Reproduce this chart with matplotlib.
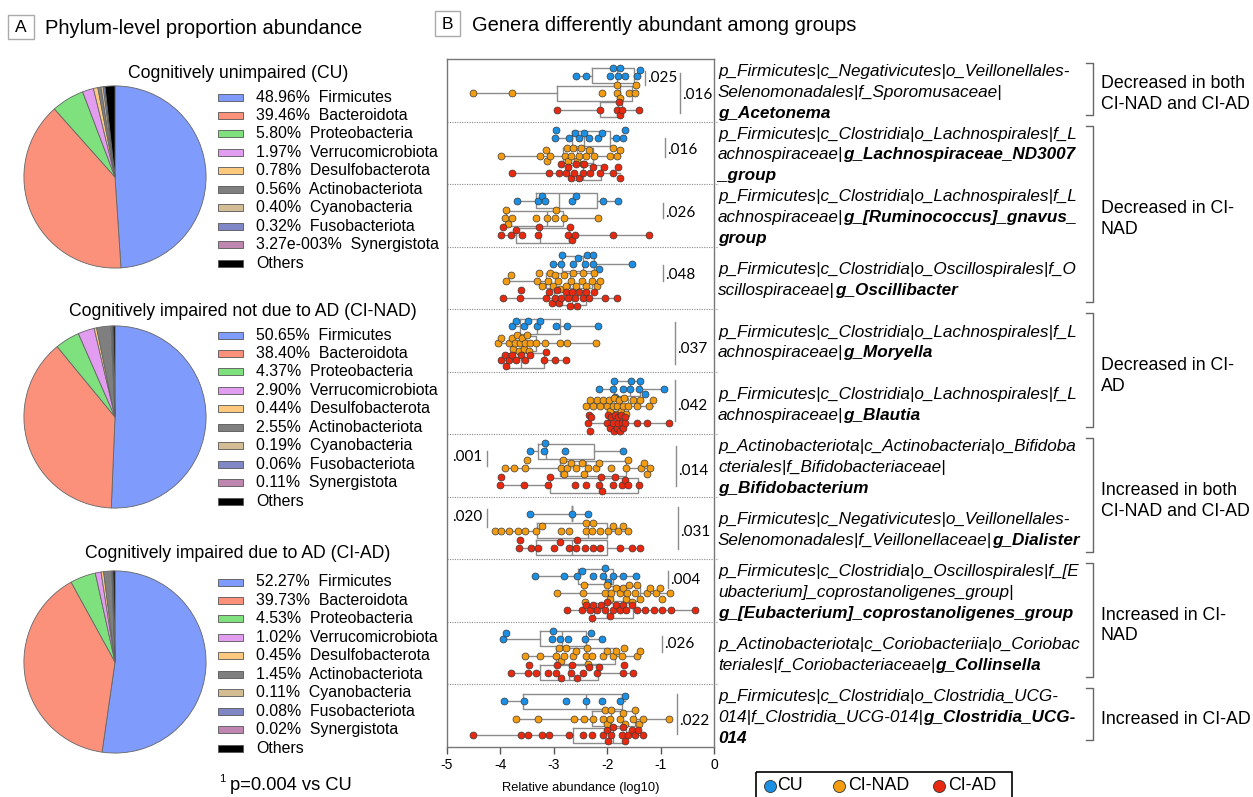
import numpy as np
import matplotlib
matplotlib.use('Agg')
import matplotlib.pyplot as plt
from matplotlib.patches import Rectangle

plt.rcParams['font.family'] = ['Liberation Sans', 'DejaVu Sans']

# ---------------- DATA ----------------
phyla = ['Firmicutes', 'Bacteroidota', 'Proteobacteria', 'Verrucomicrobiota',
         'Desulfobacterota', 'Actinobacteriota', 'Cyanobacteria', 'Fusobacteriota',
         'Synergistota', 'Others']
cu_pct = [48.96, 39.46, 5.80, 1.97, 0.78, 0.56, 0.40, 0.32, 3.27e-3]
cinad_pct = [50.65, 38.40, 4.37, 2.90, 0.44, 2.55, 0.19, 0.06, 0.11]
ciad_pct = [52.27, 39.73, 4.53, 1.02, 0.45, 1.45, 0.11, 0.08, 0.02]
pie_titles = ['Cognitively unimpaired (CU)',
              'Cognitively impaired not due to AD (CI-NAD)',
              'Cognitively impaired due to AD (CI-AD)']
phylum_colors = ['#7f9bfb', '#fb917b', '#7fe07e', '#e29cf0', '#fdc97f',
                 '#7f7f7f', '#d4bd94', '#7f87c6', '#bf86b2', '#000000']

groups = ['CU', 'CI-NAD', 'CI-AD']

# log10 relative abundance of individual samples, per genus (top to bottom)
cu_points = [
    [-2.59, -2.40, -1.94, -1.90, -1.80, -1.76, -1.66, -1.44, -1.39],
    [-2.98, -2.96, -2.71, -2.61, -2.53, -2.44, -2.34, -2.17, -2.09, -1.84, -1.70, -1.67],
    [-3.69, -3.30, -3.23, -3.17, -2.65, -2.58, -2.08, -1.79],
    [-3.02, -2.86, -2.84, -2.64, -2.54, -2.42, -2.38, -2.27, -2.26, -2.16, -1.54],
    [-3.78, -3.71, -3.55, -3.49, -3.31, -3.26, -2.95, -2.76, -2.17],
    [-2.16, -1.89, -1.87, -1.86, -1.71, -1.58, -1.56, -1.40, -1.39, -1.29, -0.94],
    [-3.44, -3.18, -3.16, -2.79, -1.71],
    [-3.45, -2.65, -2.36],
    [-3.36, -2.81, -2.56, -2.48, -2.26, -2.07, -2.04, -1.99, -1.90, -1.71, -1.46],
    [-3.96, -3.89, -3.04, -3.02, -2.89, -2.73, -2.42, -2.31, -2.09],
    [-3.94, -3.56, -2.78, -2.39, -2.09, -1.76, -1.67],
]
cu_box = [(-2.28, -1.82, -1.49), (-2.65, -2.44, -1.94), (-3.33, -2.91, -2.20),
          (-2.84, -2.46, -2.25), (-3.63, -3.31, -2.88), (-1.87, -1.57, -1.39),
          (-3.29, -3.15, -2.25), (-2.65, -2.65, -2.65), (-2.54, -2.04, -1.90),
          (-3.25, -2.84, -2.40), (-3.58, -2.39, -1.73)]

nad_points = [
    [-4.51, -3.78, -2.09, -1.82, -1.81, -1.76, -1.60, -1.48, -1.46],
    [-3.99, -3.25, -3.15, -3.12, -3.08, -2.79, -2.76, -2.73, -2.68, -2.64, -2.57, -2.52,
     -2.49, -2.46, -2.40, -2.34, -2.25, -1.94, -1.90, -1.82, -1.76],
    [-3.92, -3.89, -3.86, -3.78, -3.34, -3.12, -2.98, -2.96, -2.81, -2.17],
    [-3.89, -3.81, -3.31, -3.27, -3.23, -3.11, -3.08, -3.01, -2.98, -2.92, -2.88, -2.81,
     -2.78, -2.67, -2.64, -2.58, -2.48, -2.45, -2.39, -2.29, -2.25, -2.20, -2.14],
    [-4.04, -3.98, -3.84, -3.78, -3.76, -3.73, -3.69, -3.66, -3.64, -3.59, -3.56, -3.54,
     -3.50, -3.47, -3.45, -3.33, -3.17, -2.89, -2.76, -2.21],
    [-2.39, -2.33, -2.26, -2.20, -2.14, -2.08, -2.01, -1.96, -1.94, -1.90, -1.87, -1.84,
     -1.81, -1.78, -1.75, -1.71, -1.69, -1.65, -1.61, -1.51, -1.45, -1.39, -1.21, -1.14],
    [-3.92, -3.75, -3.53, -3.50, -2.86, -2.83, -2.80, -2.76, -2.67, -2.58, -2.48, -2.44,
     -2.36, -2.21, -2.16, -1.92, -1.64, -1.61, -1.36, -1.31, -1.25, -1.19],
    [-4.11, -3.98, -3.84, -3.67, -3.53, -3.33, -3.23, -2.87, -2.71, -2.40, -2.39, -2.28,
     -2.26, -2.14, -1.98, -1.89, -1.79, -1.70, -1.61],
    [-2.94, -2.46, -2.44, -2.42, -2.04, -2.01, -1.95, -1.92, -1.84, -1.76, -1.71, -1.65,
     -1.62, -1.59, -1.54, -1.48, -1.44, -1.39, -1.25, -1.20, -1.09, -1.01, -0.98, -0.82],
    [-3.54, -3.25, -2.95, -2.91, -2.86, -2.81, -2.78, -2.64, -2.58, -2.40, -2.38, -2.36,
     -2.29, -2.08, -2.01, -1.90, -1.84, -1.73, -1.69, -1.45, -1.39],
    [-3.70, -3.29, -2.63, -2.44, -2.26, -2.08, -2.05, -2.01, -1.94, -1.92, -1.76, -1.71,
     -1.67, -1.51, -1.48, -1.40, -1.33, -0.84],
]
nad_box = [(-2.94, -1.76, -1.54), (-2.82, -2.57, -2.27), (-3.89, -3.12, -2.83),
           (-3.14, -2.70, -2.29), (-3.79, -3.54, -3.33), (-1.92, -1.76, -1.61),
           (-2.88, -2.39, -1.64), (-3.31, -2.36, -2.01), (-1.98, -1.67, -1.39),
           (-2.95, -2.39, -1.86), (-2.29, -1.92, -1.48)]

ad_points = [
    [-2.94, -2.13, -1.81, -1.78, -1.76, -1.73, -1.41],
    [-3.79, -3.09, -2.90, -2.87, -2.78, -2.73, -2.68, -2.62, -2.58, -2.52, -2.46, -2.43,
     -2.32, -2.27, -2.14, -2.06, -1.89, -1.79, -1.76],
    [-3.98, -3.95, -3.81, -3.71, -3.59, -3.29, -3.27, -2.73, -2.70, -2.65, -2.60, -1.89, -1.21],
    [-3.95, -3.64, -3.62, -3.14, -3.09, -3.04, -2.98, -2.94, -2.90, -2.86, -2.78, -2.73,
     -2.69, -2.65, -2.61, -2.57, -2.53, -2.46, -2.39, -2.34, -2.24, -2.04, -1.81],
    [-3.98, -3.92, -3.89, -3.83, -3.78, -3.71, -3.61, -3.54, -3.45, -3.19, -3.15, -2.98, -2.77],
    [-2.36, -2.34, -2.32, -2.30, -2.00, -1.98, -1.95, -1.92, -1.89, -1.88, -1.86, -1.82,
     -1.80, -1.79, -1.76, -1.74, -1.73, -1.70, -1.67, -1.66, -1.45, -1.26, -0.84],
    [-4.01, -3.98, -3.56, -3.11, -3.08, -2.61, -2.39, -2.15, -2.11, -2.09, -1.89, -1.86,
     -1.73, -1.67, -1.61, -1.41],
    [-3.65, -3.63, -3.43, -3.29, -2.99, -2.88, -2.71, -2.59, -2.56, -2.42, -2.26, -2.14,
     -1.76, -1.54, -1.38],
    [-2.76, -2.48, -2.39, -2.33, -2.29, -2.26, -2.20, -2.11, -2.04, -2.00, -1.95, -1.89,
     -1.83, -1.76, -1.70, -1.64, -1.54, -1.45, -1.29, -1.12, -0.98, -0.81, -0.36],
    [-3.81, -3.48, -3.46, -3.34, -3.11, -2.96, -2.94, -2.86, -2.67, -2.65, -2.56, -2.45,
     -2.34, -2.20, -2.15, -1.71, -1.69, -1.51],
    [-4.51, -3.61, -3.48, -3.23, -3.09, -2.71, -2.45, -2.28, -2.08, -2.01, -1.98, -1.92,
     -1.89, -1.73, -1.70, -1.67, -1.61, -1.54, -1.48, -1.42, -1.33],
]
ad_box = [(-2.13, -1.80, -1.72), (-2.72, -2.46, -2.12), (-3.71, -3.26, -2.71),
          (-3.00, -2.65, -2.39), (-3.90, -3.61, -3.19), (-1.98, -1.82, -1.67),
          (-3.08, -2.14, -1.43), (-3.33, -2.65, -2.00), (-2.25, -2.00, -1.52),
          (-3.26, -2.71, -2.17), (-2.64, -1.90, -1.64)]

# p-values shown beside each genus
sig_labels = ['.025', '.016', '.016', '.026', '.048', '.037', '.042',
              '.001', '.014', '.020', '.031', '.004', '.026', '.022']

# taxonomy labels: lines of (text, bold) segments
taxa = [
    [[('p_Firmicutes|c_Negativicutes|o_Veillonellales-', 0)],
     [('Selenomonadales|f_Sporomusaceae|', 0)], [('g_Acetonema', 1)]],
    [[('p_Firmicutes|c_Clostridia|o_Lachnospirales|f_L', 0)],
     [('achnospiraceae|', 0), ('g_Lachnospiraceae_ND3007', 1)], [('_group', 1)]],
    [[('p_Firmicutes|c_Clostridia|o_Lachnospirales|f_L', 0)],
     [('achnospiraceae|', 0), ('g_[Ruminococcus]_gnavus_', 1)], [('group', 1)]],
    [[('p_Firmicutes|c_Clostridia|o_Oscillospirales|f_O', 0)],
     [('scillospiraceae|', 0), ('g_Oscillibacter', 1)]],
    [[('p_Firmicutes|c_Clostridia|o_Lachnospirales|f_L', 0)],
     [('achnospiraceae|', 0), ('g_Moryella', 1)]],
    [[('p_Firmicutes|c_Clostridia|o_Lachnospirales|f_L', 0)],
     [('achnospiraceae|', 0), ('g_Blautia', 1)]],
    [[('p_Actinobacteriota|c_Actinobacteria|o_Bifidoba', 0)],
     [('cteriales|f_Bifidobacteriaceae|', 0)], [('g_Bifidobacterium', 1)]],
    [[('p_Firmicutes|c_Negativicutes|o_Veillonellales-', 0)],
     [('Selenomonadales|f_Veillonellaceae|', 0), ('g_Dialister', 1)]],
    [[('p_Firmicutes|c_Clostridia|o_Oscillospirales|f_[E', 0)],
     [('ubacterium]_coprostanoligenes_group|', 0)],
     [('g_[Eubacterium]_coprostanoligenes_group', 1)]],
    [[('p_Actinobacteriota|c_Coriobacteriia|o_Coriobac', 0)],
     [('teriales|f_Coriobacteriaceae|', 0), ('g_Collinsella', 1)]],
    [[('p_Firmicutes|c_Clostridia|o_Clostridia_UCG-', 0)],
     [('014|f_Clostridia_UCG-014|', 0), ('g_Clostridia_UCG-', 1)], [('014', 1)]],
]
change_groups = ['Decreased in both\nCI-NAD and CI-AD', 'Decreased in CI-\nNAD',
                 'Decreased in CI-\nAD', 'Increased in both\nCI-NAD and CI-AD',
                 'Increased in CI-\nNAD', 'Increased in CI-AD']
change_rows = [(0, 0), (1, 3), (4, 5), (6, 7), (8, 9), (10, 10)]

# ---------------- LAYOUT ----------------
W, H = 1253, 797
fig = plt.figure(figsize=(W / 100, H / 100), dpi=100)
fig.patch.set_facecolor('white')
ov = fig.add_axes([0, 0, 1, 1], zorder=-1)
ov.set_xlim(0, W)
ov.set_ylim(H, 0)
ov.set_axis_off()

# Panel headers
ov.add_patch(Rectangle((8, 15), 26, 24, fill=False, edgecolor='#aaaaaa', lw=1))
ov.text(21, 27.5, 'A', ha='center', va='center', fontsize=12.5)
ov.text(45, 28, 'Phylum-level proportion abundance', va='center', fontsize=14.5)
ov.add_patch(Rectangle((435, 11), 25, 25, fill=False, edgecolor='#aaaaaa', lw=1))
ov.text(447.5, 24, 'B', ha='center', va='center', fontsize=12.5)
ov.text(472, 25.5, 'Genera differently abundant among groups', va='center', fontsize=14.5)


def fmt_pct(v):
    if v < 0.01:
        m, e = f'{v:.2e}'.split('e')
        return f'{m}e{int(e):04d}%'
    return f'{v:.2f}%'


pie_centers = [(115, 177), (115, 417), (115, 662)]
pie_r = 92
title_pos = [(238, 73), (243, 311), (238, 553)]
legend_y0 = [97, 335, 582]
legend_dy = 18.45
for k, pcts in enumerate([cu_pct, cinad_pct, ciad_pct]):
    cx, cy = pie_centers[k]
    axp = fig.add_axes([(cx - pie_r) / W, 1 - (cy + pie_r) / H, 2 * pie_r / W, 2 * pie_r / H])
    vals = list(pcts) + [100 - sum(pcts)]
    axp.pie(vals, colors=phylum_colors, startangle=90, counterclock=False,
            wedgeprops=dict(edgecolor='#666666', linewidth=0.6))
    axp.set_xlim(-1.01, 1.01)
    axp.set_ylim(-1.01, 1.01)
    ov.text(title_pos[k][0], title_pos[k][1], pie_titles[k], ha='center', va='center',
            fontsize=12.7)
    for j, name in enumerate(phyla):
        y = legend_y0[k] + j * legend_dy
        ov.add_patch(Rectangle((218, y - 3.5), 25, 7, facecolor=phylum_colors[j],
                               edgecolor='#555555', lw=0.6))
        lab = name if j == len(phyla) - 1 else f'{fmt_pct(vals[j])}  {name}'
        ov.text(256, y, lab, va='center', fontsize=11.4)

ov.text(392.5, 443, '1', ha='center', va='center', fontsize=5.5)
ov.text(222.5, 779, '1', ha='center', va='center', fontsize=8)
ov.text(230, 785.5, 'p=0.004 vs CU', va='center', fontsize=13.2)

# ---------------- Panel B ----------------
axB = fig.add_axes([447 / W, 1 - 747 / H, 267 / W, 688 / H])
axB.set_xlim(-5, 0)
axB.set_ylim(11, 0)
px_x = 267 / 5.0
px_y = 688 / 11.0

group_colors = ['#1a8fe3', '#f39c12', '#e8290f']
offsets = [0.27, 0.545, 0.815]


def swarm_offsets(vals, d=6.0):
    vals = np.asarray(vals, dtype=float)
    order = np.argsort(vals)
    placed = []
    offs = np.zeros(len(vals))
    cands = [0.0, -0.9 * d, 0.9 * d, -1.35 * d, 1.35 * d]
    for idx in order:
        x = vals[idx] * px_x
        best, best_cost = 0.0, None
        for c in cands:
            cost = 0.0
            for (qx, qy) in placed:
                dist = np.hypot(x - qx, c - qy)
                if dist < d:
                    cost += d - dist
            if cost == 0:
                best = c
                best_cost = 0
                break
            if best_cost is None or cost < best_cost:
                best_cost, best = cost, c
        offs[idx] = best
        placed.append((x, best))
    return offs


lineprops = dict(color='#8c8c8c', linewidth=1)
for g, (pts_all, box_all) in enumerate([(cu_points, cu_box), (nad_points, nad_box),
                                         (ad_points, ad_box)]):
    for i in range(len(pts_all)):
        pts = np.array(pts_all[i])
        q1, med, q3 = box_all[i]
        pos = i + offsets[g]
        stats = [dict(med=med, q1=q1, q3=q3, whislo=pts.min(), whishi=pts.max(), fliers=[])]
        kw = dict(positions=[pos], widths=0.24, showcaps=False, showfliers=False,
                  boxprops=lineprops, whiskerprops=lineprops, medianprops=lineprops,
                  manage_ticks=False)
        try:
            axB.bxp(stats, orientation='horizontal', **kw)
        except TypeError:
            axB.bxp(stats, vert=False, **kw)
        offs = swarm_offsets(pts)
        axB.scatter(pts, pos + offs / px_y, s=25, c=group_colors[g], edgecolors='#3a3a3a',
                    linewidths=0.5, zorder=3)

axB.hlines(np.arange(1, 11), -5, 0.05, colors='#8a8a8a', linestyles=(0, (1, 1.2)),
           lw=0.8, clip_on=False)

# significance marks: (x of line, y0, y1, text y, side)
sig_layout = [(-1.29, 0.19, 0.42, 0.31, 'R'), (-0.64, 0.22, 0.87, 0.58, 'R'),
              (-0.92, 1.27, 1.56, 1.46, 'R'), (-0.95, 2.30, 2.55, 2.46, 'R'),
              (-0.96, 3.30, 3.55, 3.46, 'R'), (-0.73, 4.20, 4.87, 4.63, 'R'),
              (-0.73, 5.14, 5.79, 5.55, 'R'), (-4.26, 6.26, 6.51, 6.36, 'L'),
              (-0.71, 6.18, 6.82, 6.59, 'R'), (-4.25, 7.19, 7.49, 7.33, 'L'),
              (-0.67, 7.17, 7.83, 7.56, 'R'), (-0.86, 8.19, 8.45, 8.33, 'R'),
              (-0.98, 9.23, 9.48, 9.36, 'R'), (-0.69, 10.15, 10.80, 10.58, 'R')]
for lab, (xl, y0, y1, yt, side) in zip(sig_labels, sig_layout):
    axB.plot([xl, xl], [y0, y1], color='#8c8c8c', lw=1, zorder=2)
    if side == 'R':
        axB.text(xl + 0.04, yt, lab, ha='left', va='center', fontsize=11,
                 family=['Lato', 'DejaVu Sans'])
    else:
        axB.text(xl - 0.08, yt, lab, ha='right', va='center', fontsize=11,
                 family=['Lato', 'DejaVu Sans'])

axB.set_xticks(np.arange(-5, 1))
axB.set_xticklabels(['-5', '-4', '-3', '-2', '-1', '0'], fontsize=10)
axB.set_yticks([])
axB.tick_params(axis='x', direction='out', length=5, width=1, color='#555555', pad=3)
for s in axB.spines.values():
    s.set_color('#777777')
    s.set_linewidth(1)
ov.text(581, 788, 'Relative abundance (log10)', ha='center', va='center', fontsize=9.3)

# taxonomy text
renderer = fig.canvas.get_renderer()
row_top = 59
row_h = 62.5
line_dy = 20.7
tax_fs = 12.3
for i, lines in enumerate(taxa):
    c = row_top + row_h * (i + 0.5) + 0.8
    n = len(lines)
    for j, segs in enumerate(lines):
        y = c + (j - (n - 1) / 2) * line_dy + 5.9
        x = 718
        for text, bold in segs:
            t = ov.text(x, y, text, ha='left', va='baseline', fontsize=tax_fs,
                        style='italic', weight='bold' if bold else 'normal')
            x = t.get_window_extent(renderer).x1

# bracket groups
for lab, (r0, r1) in zip(change_groups, change_rows):
    top = row_top + row_h * r0 + 4
    bot = row_top + row_h * (r1 + 1) - 7
    ov.plot([1086, 1093, 1093, 1086], [top, top, bot, bot], color='#666666', lw=1)
    cy = row_top + row_h * (r0 + r1 + 1) / 2 + 4
    parts = lab.split('\n')
    for j, p in enumerate(parts):
        y = cy + (j - (len(parts) - 1) / 2) * 21
        ov.text(1101, y, p, ha='left', va='center', fontsize=12.8)

# group legend
ov.add_patch(Rectangle((756, 771.5), 256, 40, fill=False, edgecolor='black', lw=1.2,
                       clip_on=False))
for (xm, xt), g, col in zip([(769.5, 777.5), (839, 848), (939, 948.5)], groups, group_colors):
    ov.scatter([xm], [785.5], s=75, c=col, edgecolors='#333333', linewidths=0.6)
    ov.text(xt, 785.5, g, ha='left', va='center', fontsize=12.8)

fig.savefig('out.png', dpi=100)
